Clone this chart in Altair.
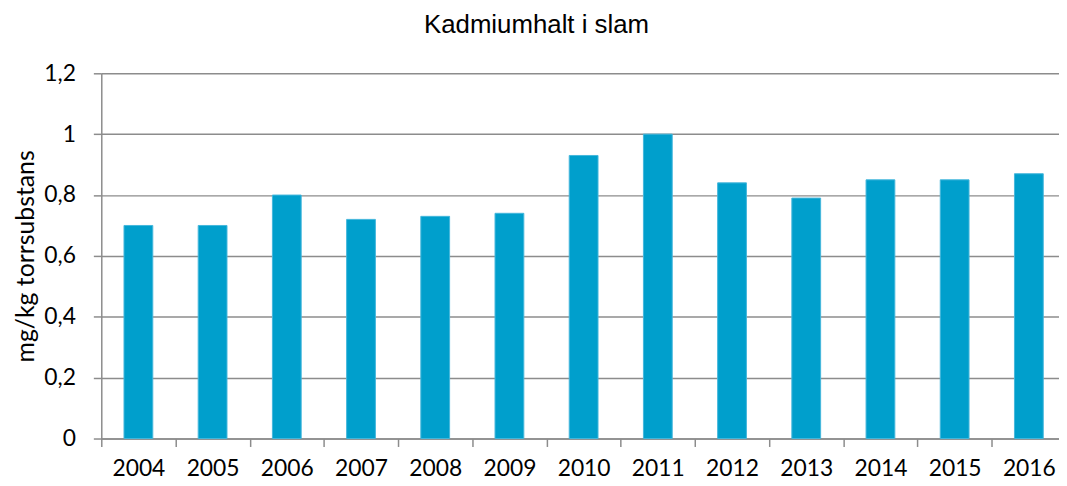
import altair as alt
import pandas as pd

years = ["2004", "2005", "2006", "2007", "2008", "2009", "2010",
         "2011", "2012", "2013", "2014", "2015", "2016"]
values = [0.70, 0.70, 0.80, 0.72, 0.73, 0.74, 0.93,
          1.00, 0.84, 0.79, 0.85, 0.85, 0.87]
y_ticks = [0, 0.2, 0.4, 0.6, 0.8, 1.0, 1.2]

df = pd.DataFrame({"year": years, "value": values})

LABEL_FONT = "Lato"
GRID = "#8C8C8C"
PLOT_W = 965
STEP = 74.77            # pixels per category, as in the reference
HALF_BAR = 0.194        # half bar width in category units

first = int(years[0]) - 0.5
x_domain = [first, first + PLOT_W / STEP]
# axis values: category boundaries (ticks) and centres (labels)
x_values = [int(y) + d for y in years for d in (-0.5, 0.0)]

x_scale = alt.Scale(domain=x_domain, nice=False, zero=False)

chart = alt.Chart(df).transform_calculate(
    x0=f"toNumber(datum.year) - {HALF_BAR}",
    x1=f"toNumber(datum.year) + {HALF_BAR}",
).mark_rect(
    color="#009FCC", stroke="#45B6DC", strokeWidth=1
).encode(
    x=alt.X("x0:Q", title=None, scale=x_scale,
            axis=alt.Axis(values=x_values, labelAngle=0, tickSize=8,
                          tickColor=GRID, tickWidth=1.5,
                          tickOpacity={"condition": {"test": "datum.value % 1 !== 0", "value": 1}, "value": 0},
                          labelExpr="datum.value % 1 === 0 ? format(datum.value, 'd') : ''",
                          labelOverlap=False, labelFlush=False, labelBound=False,
                          domainColor=GRID, domainWidth=1.5,
                          labelFont=LABEL_FONT, labelFontSize=23,
                          labelColor="#000000", labelPadding=11, grid=False)),
    x2="x1:Q",
    y=alt.Y("value:Q", title="mg/kg torrsubstans",
            scale=alt.Scale(domain=[0, 1.2], nice=False),
            axis=alt.Axis(values=y_ticks, tickSize=8, tickColor=GRID, tickWidth=1.5,
                          domainColor=GRID, domainWidth=1.5,
                          gridColor=GRID, gridWidth=1.5,
                          labelExpr="replace(format(datum.value, '~g'), '.', ',')",
                          labelFont=LABEL_FONT, labelFontSize=23, labelColor="#000000",
                          labelPadding=18,
                          titleFont=LABEL_FONT, titleFontSize=25, titleFontWeight="normal",
                          titleColor="#000000", titlePadding=5)),
    y2=alt.datum(0),
).properties(
    width=PLOT_W,
    height=368,
    title=alt.TitleParams("Kadmiumhalt i slam", font="Liberation Sans", fontSize=26,
                          fontWeight="normal", color="#000000", offset=25,
                          frame="bounds"),
    autosize=alt.AutoSizeParams(type="none"),
    padding={"left": 94, "top": 64, "right": 0, "bottom": 42},
).configure_view(stroke=None)

chart.save("out.html", embed_options={"renderer": "svg", "actions": False})
